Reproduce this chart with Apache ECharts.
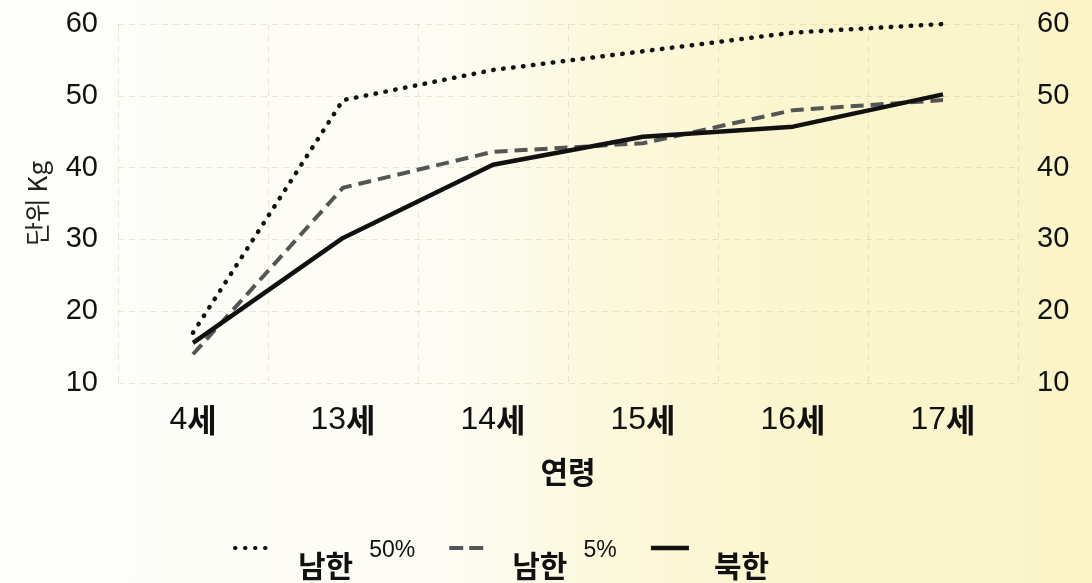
<!DOCTYPE html>
<html>
<head>
<meta charset="utf-8">
<script src="https://cdn.jsdelivr.net/npm/echarts@6/dist/echarts.min.js"></script>
<style>
html, body { margin:0; padding:0; }
#main {
    width:1092px; height:583px;
    background: linear-gradient(to right, #fefefb 0%, #fdfcf3 42%, #fcf8db 56%, #fcf6d0 70%, #fbf4c8 100%);
}
</style>
</head>
<body>
<div id="main"></div>
<script>
// 연령별 체중 (단위 Kg)
const ages = ['4세', '13세', '14세', '15세', '16세', '17세'];
const south50 = [17, 49.4, 53.6, 56.2, 58.8, 60];
const south5 = [14, 37.2, 42.2, 43.4, 48, 49.4];
const north = [15.6, 30.2, 40.4, 44.3, 45.7, 50.2];
const seriesNames = ['남한 50%', '남한 5%', '북한'];
const yMin = 10, yMax = 60, yStep = 10;

const chart = echarts.init(document.getElementById('main'));

const numFont = '"Liberation Sans", Arial, sans-serif';
const krFont = '"Noto Sans CJK KR", sans-serif';
const gridLine = { show:true, lineStyle:{ color:'rgba(170,165,120,0.25)', type:[6,5], width:1 } };

const dotLine = { color:'#111', width:4.5, type:[0.5, 9.5], cap:'round' };
const dashLine = { color:'#555', width:4, type:[13, 7] };
const solidLine = { color:'#111', width:4.5 };

chart.setOption({
    backgroundColor: 'transparent',
    animation: false,
    grid: { left:118, right:74, top:24, bottom:200 },
    legend: {
        data: [
            { name: seriesNames[0], lineStyle: { width:4, type:[0.5, 9.5], cap:'round' } },
            { name: seriesNames[1], lineStyle: { width:4, type:[14, 6] } },
            { name: seriesNames[2], lineStyle: { width:4.5 } }
        ],
        left: 228, top: 534,
        itemWidth: 38, itemHeight: 14, itemGap: 32,
        itemStyle: { opacity:0, borderWidth:0 },
        formatter: name => {
            const parts = name.split(' ');
            return parts.length > 1 ? `{b|${parts[0]}}{p|${parts[1]}}` : `{b|${name}}`;
        },
        textStyle: {
            rich: {
                b: { fontFamily:krFont, fontWeight:'bold', fontSize:30, color:'#111', padding:[36,0,0,20] },
                p: { fontFamily:numFont, fontSize:23, color:'#111', verticalAlign:'bottom', padding:[0,0,19,16] }
            }
        }
    },
    xAxis: {
        type: 'category',
        data: ages,
        boundaryGap: true,
        axisLine: { show:false },
        axisTick: { show:false },
        splitLine: gridLine,
        axisLabel: {
            margin: 21,
            formatter: v => `{n|${v.replace('세','')}}{s|세}`,
            rich: {
                n: { fontFamily:numFont, fontSize:32, color:'#111' },
                s: { fontFamily:krFont, fontWeight:'bold', fontSize:32, color:'#111' }
            }
        },
        name: '연령',
        nameLocation: 'middle',
        nameGap: 74,
        nameTextStyle: { fontFamily:krFont, fontWeight:'bold', fontSize:30, color:'#111' }
    },
    yAxis: [{
        type: 'value',
        min: yMin, max: yMax, interval: yStep,
        axisLine: { show:false },
        axisTick: { show:false },
        splitLine: gridLine,
        axisLabel: { margin:20, fontFamily:numFont, fontSize:29, color:'#111' },
        name: '단위 Kg',
        nameLocation: 'middle',
        nameGap: 68,
        nameRotate: 90,
        nameTextStyle: { fontFamily:krFont, fontSize:26, color:'#222' }
    }, {
        type: 'value',
        position: 'right',
        min: yMin, max: yMax, interval: yStep,
        axisLine: { show:false },
        axisTick: { show:false },
        splitLine: { show:false },
        axisLabel: { margin:19, fontFamily:numFont, fontSize:29, color:'#111' }
    }],
    series: [{
        name: seriesNames[0],
        type: 'line',
        data: south50,
        symbol: 'none',
        itemStyle: { color:'#111' },
        lineStyle: dotLine
    }, {
        name: seriesNames[1],
        type: 'line',
        data: south5,
        symbol: 'none',
        itemStyle: { color:'#555' },
        lineStyle: dashLine
    }, {
        name: seriesNames[2],
        type: 'line',
        data: north,
        symbol: 'none',
        itemStyle: { color:'#111' },
        lineStyle: solidLine
    }]
});
</script>
</body>
</html>
